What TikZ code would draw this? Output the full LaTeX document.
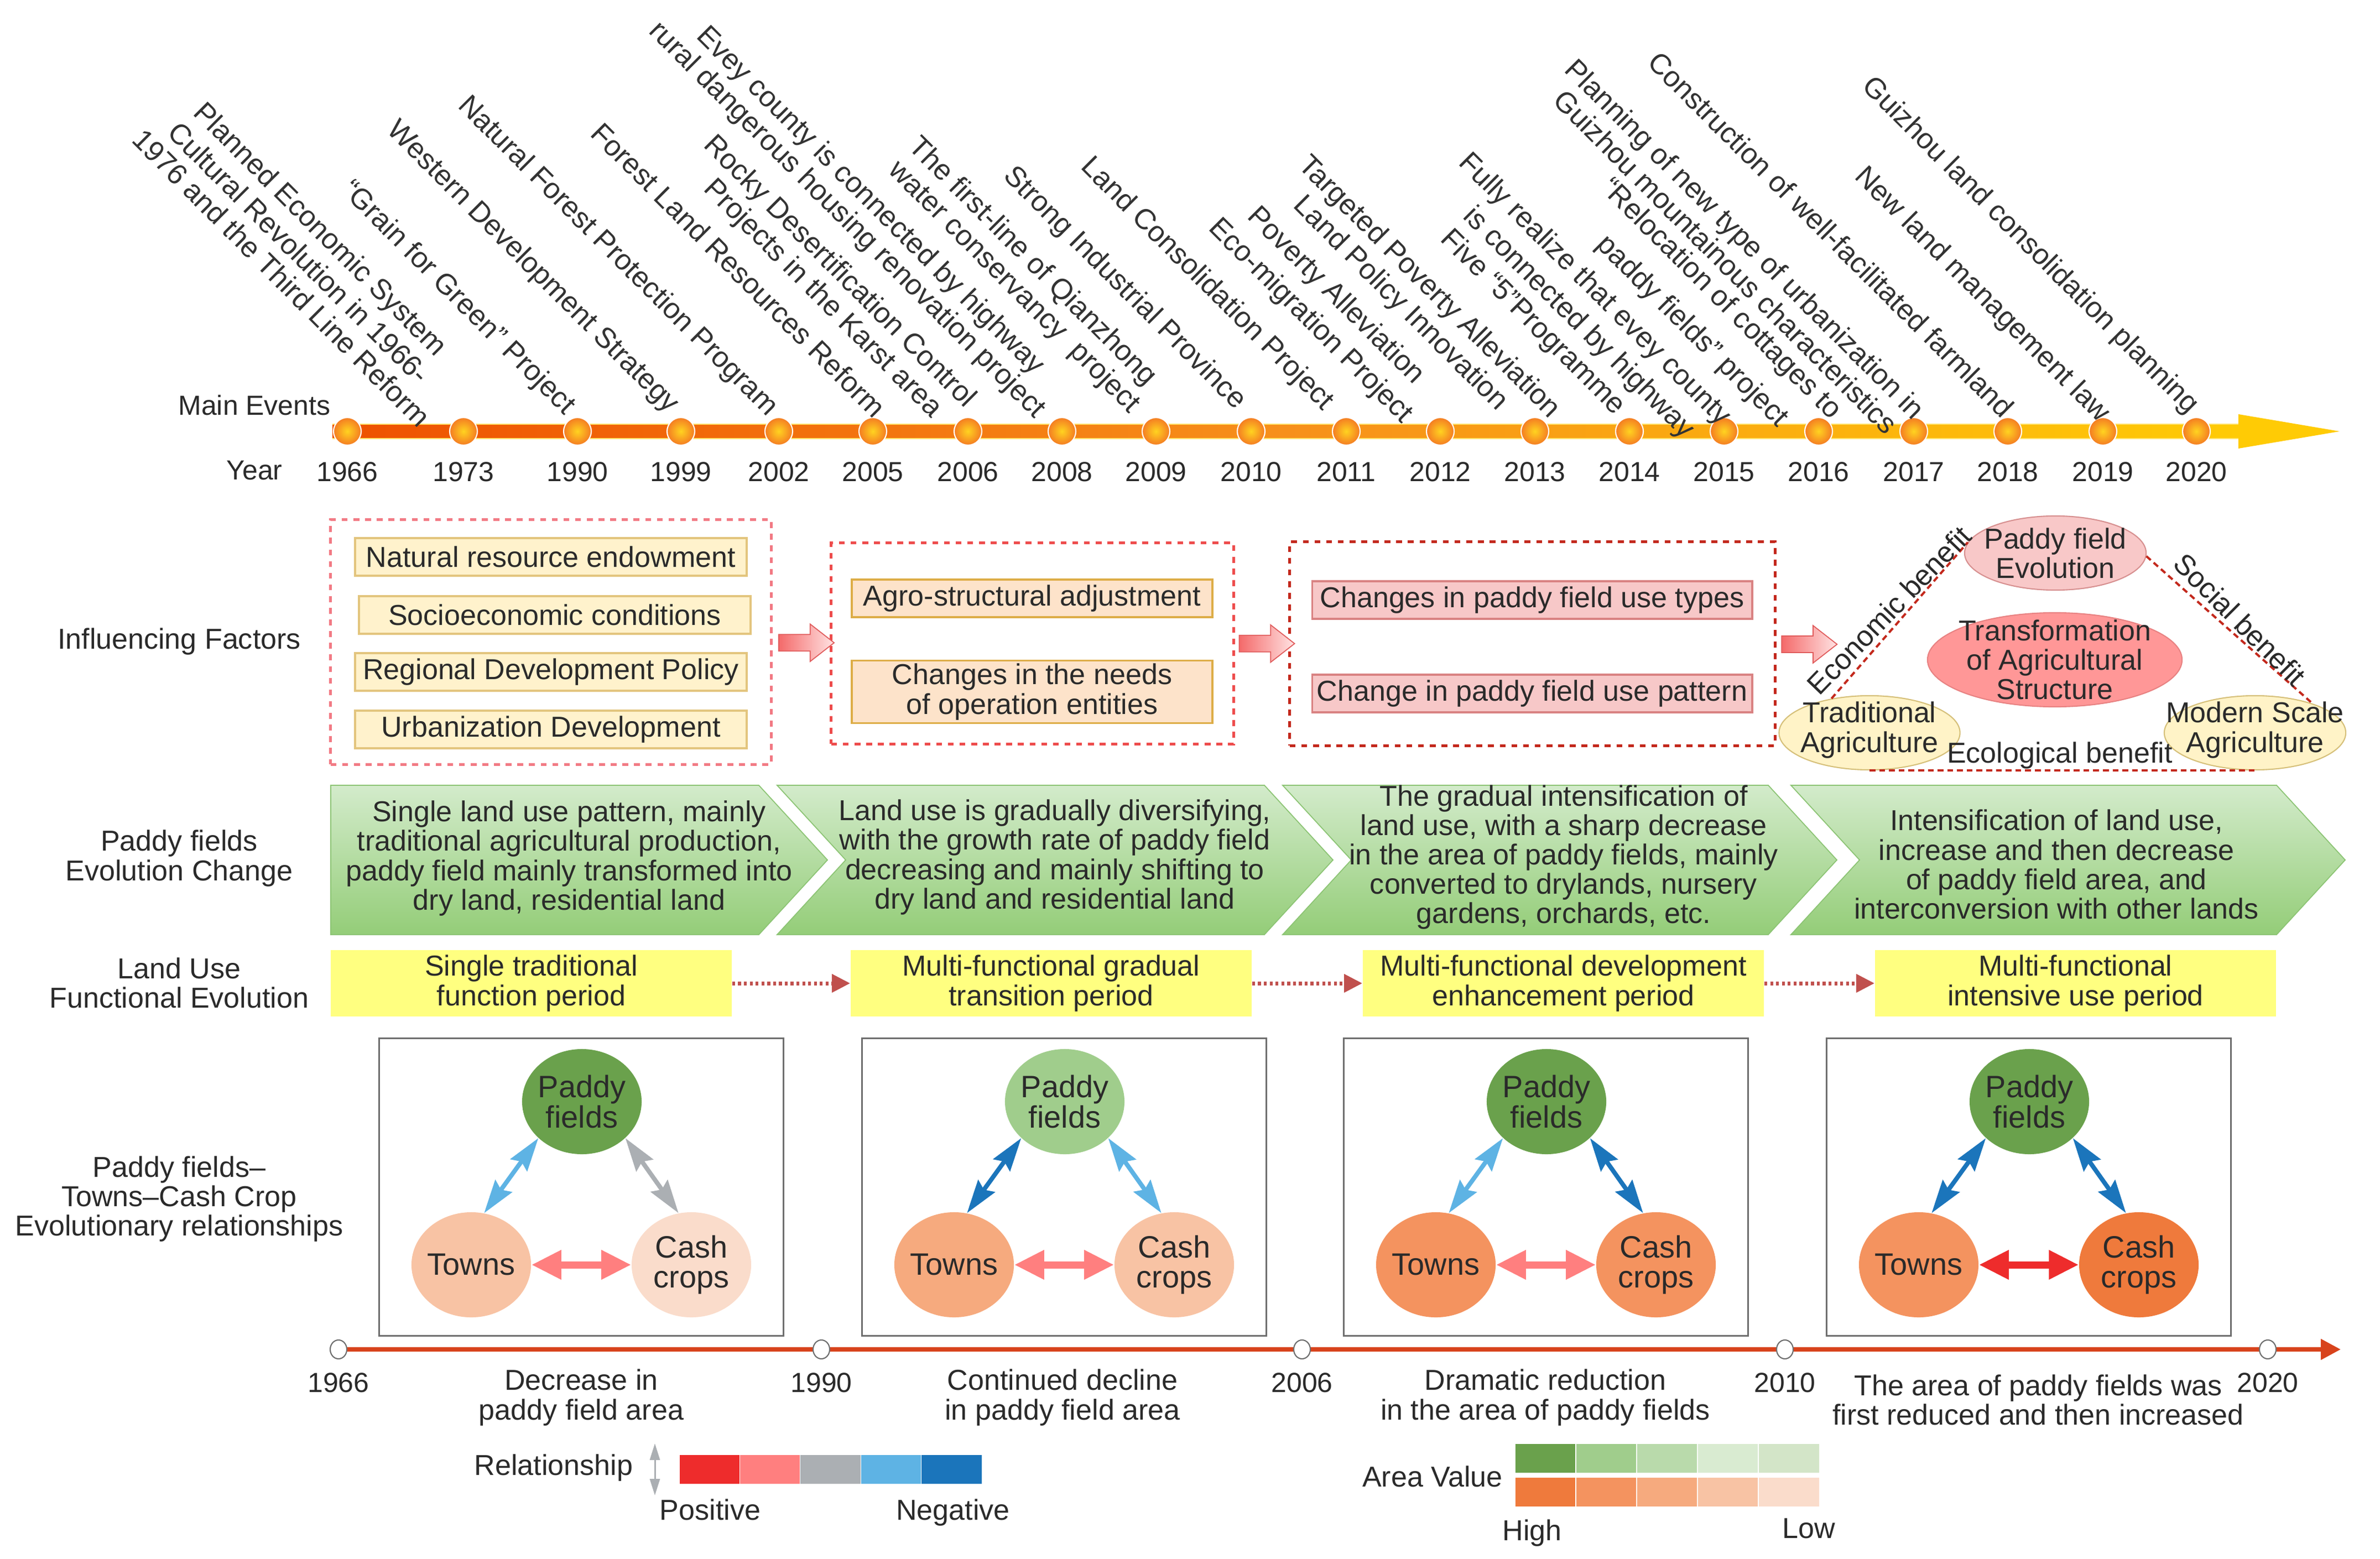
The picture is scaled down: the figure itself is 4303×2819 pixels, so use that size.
\documentclass[tikz,border=0pt]{standalone}
\usepackage{fontspec}
\setmainfont{Liberation Sans}
\usetikzlibrary{arrows.meta,shapes.geometric,shapes.arrows,calc}
\newcommand\fsA{\fontsize{14.8pt}{15.1pt}\selectfont}
\newcommand\fsY{\fontsize{14.2pt}{15pt}\selectfont}
\newcommand\fsB{\fontsize{15.9pt}{15.4pt}\selectfont}
\definecolor{txt}{HTML}{2A2A2A}
\definecolor{evtc}{HTML}{333333}
\definecolor{barL}{HTML}{EE5100}
\definecolor{barM}{HTML}{F7901A}
\definecolor{barR}{HTML}{FFCB05}
\definecolor{barE}{HTML}{FFE36A}
\definecolor{dotIn}{HTML}{FFD320}
\definecolor{dotOut}{HTML}{F47B22}
\definecolor{cA}{HTML}{FFF2CC}\definecolor{cAd}{HTML}{E3C57E}
\definecolor{cB}{HTML}{FDE3CA}\definecolor{cBd}{HTML}{DDAD47}
\definecolor{cC}{HTML}{F7C8C8}\definecolor{cCd}{HTML}{D98282}
\definecolor{dA}{HTML}{F27A84}\definecolor{dB}{HTML}{EE4C4C}\definecolor{dC}{HTML}{C3281C}
\definecolor{arL}{HTML}{F46A6A}\definecolor{arR}{HTML}{FFE3E3}\definecolor{arD}{HTML}{E05C5C}
\definecolor{cPE}{HTML}{F8C8C8}\definecolor{cPEd}{HTML}{D79090}
\definecolor{cTA}{HTML}{FF9797}\definecolor{cTAd}{HTML}{E88282}
\definecolor{cAG}{HTML}{FFF3C7}\definecolor{cAGd}{HTML}{D6C07A}
\definecolor{chT}{HTML}{D3EBCB}\definecolor{chB}{HTML}{94CD78}\definecolor{chD}{HTML}{8CC474}
\definecolor{cYl}{HTML}{FFFF80}
\definecolor{cDa}{HTML}{C0504D}
\definecolor{g1}{HTML}{6AA14C}\definecolor{g2}{HTML}{A0CD8C}\definecolor{g3}{HTML}{B9DAAB}
\definecolor{g4}{HTML}{D9EBD1}\definecolor{g5}{HTML}{D3E5C8}
\definecolor{o1}{HTML}{EF7A3C}\definecolor{o2}{HTML}{F4935F}\definecolor{o3}{HTML}{F6AA7E}
\definecolor{o4}{HTML}{F8C3A4}\definecolor{o5}{HTML}{FADCCB}
\definecolor{r1}{HTML}{EE2C2C}\definecolor{r2}{HTML}{FF7F7F}\definecolor{r3}{HTML}{ABAFB3}
\definecolor{r4}{HTML}{5EB3E4}\definecolor{r5}{HTML}{1B75BB}
\definecolor{tlc}{HTML}{D8431C}
\definecolor{pan}{HTML}{6E6E6E}
\begin{document}
\begin{tikzpicture}[x=0.01cm,y=-0.01cm,
  evt/.style={rotate=-45,anchor=north west,inner sep=0pt,font=\fsA,text=evtc},
  lbl/.style={font=\fsA,text=txt,align=center,inner sep=0pt},
  yrl/.style={font=\fsY,text=txt,inner sep=0pt},
  dotn/.style={circle,minimum size=0.5cm,inner sep=0pt,draw=white,line width=0.6pt,inner color=dotIn,outer color=dotOut},
  dbox/.style={line width=0.05cm,dash pattern=on 3pt off 3pt,minimum width=1cm,inner sep=0pt},
  fbox/.style={line width=1pt,minimum height=0.68cm,font=\fsA,text=txt,inner sep=0pt,align=center},
  fa/.style={fbox,draw=cAd,fill=cA,minimum width=7.08cm},
  fb/.style={fbox,draw=cBd,fill=cB,minimum width=6.52cm},
  fc/.style={fbox,draw=cCd,fill=cC,minimum width=7.95cm},
  barrow/.style={single arrow,draw=arD,line width=0.5pt,left color=arL,right color=arR,minimum height=1.0cm,inner sep=0.14cm,single arrow head extend=0.19cm,single arrow tip angle=76},
  ell/.style={ellipse,inner sep=0pt,line width=0.6pt},
  tdash/.style={draw=dC,line width=0.04cm,dash pattern=on 3pt off 2pt},
  chev/.style={top color=chT,bottom color=chB,draw=chD,line width=0.5pt},
  ybox/.style={fill=cYl,minimum width=7.25cm,minimum height=1.2cm,font=\fsA,text=txt,align=center,inner sep=0pt},
  darrow/.style={draw=cDa,line width=0.07cm,dash pattern=on 1.5pt off 1.5pt,-{Triangle[length=0.33cm,width=0.32cm]}},
  panel/.style={draw=pan,line width=0.8pt,minimum width=7.3cm,minimum height=5.37cm,inner sep=0pt},
  bub/.style={ellipse,minimum width=2.16cm,minimum height=1.9cm,inner sep=0pt},
  btxt/.style={font=\fsB,text=txt,align=center,inner sep=0pt},
  parr/.style={line width=0.08cm,>={Stealth[length=0.6cm,width=0.37cm,inset=0.08cm]},<->},
  tcarr/.style={line width=0.13cm,>={Triangle[length=0.54cm,width=0.5cm]},<->},
  tline/.style={draw=tlc,line width=0.08cm,-{Triangle[length=0.36cm,width=0.36cm]}},
  tcirc/.style={ellipse,minimum width=0.3cm,minimum height=0.34cm,inner sep=0pt,draw=pan,fill=white,line width=0.6pt},
  sw/.style={minimum width=1.1cm,minimum height=0.53cm,inner sep=0pt,draw=white,line width=0.3pt},
  garr/.style={draw=r3,line width=0.03cm,>={Triangle[length=0.3cm,width=0.18cm]},<->}
]
\useasboundingbox[fill=white] (0,0) rectangle (4303,2819);

% ---------- top timeline ----------
\shade[left color=barL,right color=barR,middle color=barM] (601,767) rectangle (4050,793);
\draw[barE,line width=0.6pt] (601,767) -- (4048,767) (601,793) -- (4048,793);
\fill[barR] (4047,749) -- (4230,780) -- (4047,811) -- cycle;
\foreach \x/\yy in {628/1966,838/1973,1044/1990,1231/1999,1408/2002,1578/2005,1750/2006,1920/2008,2090/2009,2262/2010,2434/2011,2604/2012,2775/2013,2946/2014,3117/2015,3288/2016,3460/2017,3630/2018,3802/2019,3971/2020}{
  \node[dotn] (d\yy) at (\x,780) {};
  \node[yrl] (y\yy) at (\x,853) {\yy};
}
\node[yrl] (lME) at (460,733) {Main Events};
\node[yrl] (lYr) at (460,851) {Year};

\node[evt] (e1) at (374,179) {Planned Economic System};
\node[evt] (e2) at (327,215) {Cultural Revolution in 1966-};
\node[evt] (e3) at (263,228) {1976 and the Third Line Reform};
\node[evt] (e4) at (642,319) {“Grain for Green” Project};
\node[evt] (e5) at (724,210) {Western Development Strategy};
\node[evt] (e6) at (853,166) {Natural Forest Protection Program};
\node[evt] (e7) at (1092,217) {Forest Land Resources Reform};
\node[evt] (e8) at (1297,237) {Rocky Desertification Control};
\node[evt] (e9) at (1297,316) {Projects in the Karst area};
\node[evt] (e10) at (1284,40) {Evey county is connected by highway};
\node[evt] (e11) at (1198,31) {rural dangerous housing renovation project};
\node[evt] (e12) at (1667,240) {The first-line of Qianzhong};
\node[evt] (e13) at (1631,283) {water conservancy\ \ project};
\node[evt] (e14) at (1839,293) {Strong Industrial Province};
\node[evt] (e15) at (1979,276) {Land Consolidation Project};
\node[evt] (e16) at (2280,366) {Poverty Alleviation};
\node[evt] (e17) at (2210,387) {Eco-migration Project};
\node[evt] (e18) at (2372,274) {Targeted Poverty Alleviation};
\node[evt] (e19) at (2363,346) {Land Policy Innovation};
\node[evt] (e20) at (2662,269) {Fully realize that evey county};
\node[evt] (e21) at (2670,366) {is connected by highway};
\node[evt] (e22) at (2629,407) {Five “5”Programme};
\node[evt] (e23) at (2853,101) {Planning of new type of urbanization in};
\node[evt] (e24) at (2832,157) {Guizhou mountainous characteristics};
\node[evt] (e25) at (2919,315) {“Relocation of cottages to};
\node[evt] (e26) at (2911,417) {paddy fields” project};
\node[evt] (e27) at (3003,88) {Construction of well-facilitated farmland};
\node[evt] (e28) at (3378,294) {New land management law};
\node[evt] (e29) at (3391,131) {Guizhou land consolidation planning};

% ---------- influencing factors ----------
\node[lbl] (lIF) at (324,1160) {Influencing Factors};
\node[dbox,draw=dA,minimum width=7.96cm,minimum height=4.42cm] (D1) at (996,1161) {};
\node[dbox,draw=dB,minimum width=7.27cm,minimum height=3.63cm] (D2) at (1866.5,1163.5) {};
\node[dbox,draw=dC,minimum width=8.77cm,minimum height=3.68cm] (D3) at (2770.5,1164) {};
\node[fa] (a1) at (996,1007) {Natural resource endowment};
\node[fa] (a2) at (1003,1112) {Socioeconomic conditions};
\node[fa] (a3) at (996,1215) {Regional Development Policy};
\node[fa] (a4) at (996,1319) {Urbanization Development};
\node[fb] (b1) at (1866,1082) {Agro-structural adjustment};
\node[fb,minimum height=1.13cm] (b2) at (1866,1251) {Changes in the needs\\of operation entities};
\node[fc] (c1) at (2770,1085) {Changes in paddy field use types};
\node[fc] (c2) at (2770,1254) {Change in paddy field use pattern};
\node[barrow] (ba1) at ($(D1.east)!0.5!(D2.west)$) {};
\node[barrow] (ba2) at ($(D2.east)!0.5!(D3.west)$) {};
\node[barrow] (ba3) at ($(D3.east)+(50,1)$) {};

\node[ell,fill=cPE,draw=cPEd,minimum width=3.28cm,minimum height=1.34cm] (pfe) at (3716,1000) {};
\node[lbl] (pfet) at (pfe) {Paddy field\\Evolution};
\node[ell,fill=cTA,draw=cTAd,minimum width=4.6cm,minimum height=1.7cm] (tas) at (3715,1193) {};
\node[lbl] (tast) at (tas) {Transformation\\of Agricultural\\Structure};
\node[ell,fill=cAG,draw=cAGd,minimum width=3.27cm,minimum height=1.34cm] (ta) at (3380,1325) {};
\node[lbl] (tat) at (3380,1320) {Traditional\\Agriculture};
\node[ell,fill=cAG,draw=cAGd,minimum width=3.28cm,minimum height=1.34cm] (msa) at (4077,1325) {};
\node[lbl] (msat) at (4077,1320) {Modern Scale\\Agriculture};
\draw[tdash] (ta.138) -- (pfe.173);
\draw[tdash] (pfe.358) -- (msa.27);
\draw[tdash] (ta.south) -- (msa.south);
\node[lbl,rotate=46,anchor=south,inner sep=2pt] (ecob) at ($(ta.138)!0.5!(pfe.173)$) {Economic benefit};
\node[lbl,rotate=-45,anchor=south,inner sep=2pt] (socb) at ($(pfe.358)!0.5!(msa.27)$) {Social benefit};
\node[lbl] (ecolb) at (3724,1366) {Ecological benefit};

% ---------- paddy field evolution change ----------
\node[lbl] (lPE) at (324,1552) {Paddy fields\\Evolution Change};
\shade[chev] (598,1420) -- (1372,1420) -- (1496,1555) -- (1372,1690) -- (598,1690) -- cycle;
\shade[chev] (1405,1420) -- (2286,1420) -- (2410,1555) -- (2286,1690) -- (1405,1690) -- (1529,1555) -- cycle;
\shade[chev] (2319,1420) -- (3197,1420) -- (3321,1555) -- (3197,1690) -- (2319,1690) -- (2443,1555) -- cycle;
\shade[chev] (3238,1420) -- (4116,1420) -- (4240,1555) -- (4116,1690) -- (3238,1690) -- (3362,1555) -- cycle;
\node[lbl] (ch1) at (1029,1552) {Single land use pattern, mainly\\traditional agricultural production,\\paddy field mainly transformed into\\dry land, residential land};
\node[lbl] (ch2) at (1907,1550) {Land use is gradually diversifying,\\with the growth rate of paddy field\\decreasing and mainly shifting to\\dry land and residential land};
\node[lbl] (ch3) at (2827,1550) {The gradual intensification of\\land use, with a sharp decrease\\in the area of paddy fields, mainly\\converted to drylands, nursery\\gardens, orchards, etc.};
\node[lbl] (ch4) at (3718,1563) {Intensification of land use,\\increase and then decrease\\of paddy field area, and\\interconversion with other lands};

% ---------- land use functional evolution ----------
\node[lbl] (lLU) at (324,1777) {Land Use\\Functional Evolution};
\node[ybox] (yb1) at (960.5,1778) {Single traditional\\function period};
\node[ybox] (yb2) at (1900.5,1778) {Multi-functional gradual\\transition period};
\node[ybox] (yb3) at (2826.5,1778) {Multi-functional development\\enhancement period};
\node[ybox] (yb4) at (3752.5,1778) {Multi-functional\\intensive use period};
\draw[darrow] (yb1) -- (yb2);
\draw[darrow] (yb2) -- (yb3);
\draw[darrow] (yb3) -- (yb4);

% ---------- relationships ----------
\node[lbl] (lRel) at (324,2168) {Paddy fields–\\Towns–Cash Crop\\Evolutionary relationships};
\foreach \L/\i/\cp/\ct/\cc/\aa/\ab/\ac in {686/1/g1/o4/o5/r4/r3/r2,1559/2/g2/o3/o4/r5/r4/r2,2430/3/g1/o2/o2/r4/r5/r2,3303/4/g1/o2/o1/r5/r5/r1}{
  \node[panel] (pn\i) at (\L+365,2146.5) {};
  \node[bub,fill=\cp] (pf\i) at (\L+366,1992) {};
  \node[btxt] (pft\i) at (pf\i) {Paddy\\fields};
  \node[bub,fill=\ct] (tw\i) at (\L+166,2287) {};
  \node[btxt] (twt\i) at (tw\i) {Towns};
  \node[bub,fill=\cc] (cc\i) at (\L+564,2287) {};
  \node[btxt] (cct\i) at (cc\i) {Cash\\crops};
  \draw[parr,draw=\aa] (tw\i.76) -- (pf\i.220);
  \draw[parr,draw=\ab] (pf\i.320) -- (cc\i.104);
  \draw[tcarr,draw=\ac] (tw\i.east) -- (cc\i.west);
}

% ---------- bottom timeline ----------
\coordinate (k1) at (612,2440);
\coordinate (k2) at (1485,2440);
\coordinate (k3) at (2354,2440);
\coordinate (k4) at (3227,2440);
\coordinate (k5) at (4100,2440);
\coordinate (kEnd) at (4232,2440);
\draw[tline] (k1) -- (kEnd);
\foreach \j/\yy in {1/1966,2/1990,3/2006,4/2010,5/2020}{
  \node[tcirc] (t\j) at (k\j) {};
  \node[yrl] (ty\j) at ($(k\j)+(0,60)$) {\yy};
}
\node[lbl] (cap1) at (1051,2527) {Decrease in\\paddy field area};
\node[lbl] (cap2) at (1921,2527) {Continued decline\\in paddy field area};
\node[lbl] (cap3) at (2794,2527) {Dramatic reduction\\in the area of paddy fields};
\node[lbl] (cap4) at (3685,2531) {The area of paddy fields was\\first reduced and then increased};

% ---------- legend ----------
\node[lbl] (lgR) at (1001,2654) {Relationship};
\coordinate (la1) at (1184,2610);
\coordinate (la2) at (1184,2704);
\draw[garr] (la1) -- (la2);
\foreach \k/\c in {0/r1,1/r2,2/r3,3/r4,4/r5}{
  \node[sw,fill=\c] (rs\k) at (1283+109.4*\k,2656.5) {};
}
\node[lbl] (lgP) at (1284,2730) {Positive};
\node[lbl] (lgN) at (1723,2735) {Negative};
\node[lbl] (lgA) at (2590,2670) {Area Value};
\foreach \k/\c/\d in {0/g1/o1,1/g2/o2,2/g3/o3,3/g4/o4,4/g5/o5}{
  \node[sw,fill=\c] (gs\k) at (2794+110*\k,2637) {};
  \node[sw,fill=\d] (os\k) at (2794+110*\k,2697.5) {};
}
\node[lbl] (lgH) at (2770,2772) {High};
\node[lbl] (lgL) at (3270,2764) {Low};
\end{tikzpicture}
\end{document}
